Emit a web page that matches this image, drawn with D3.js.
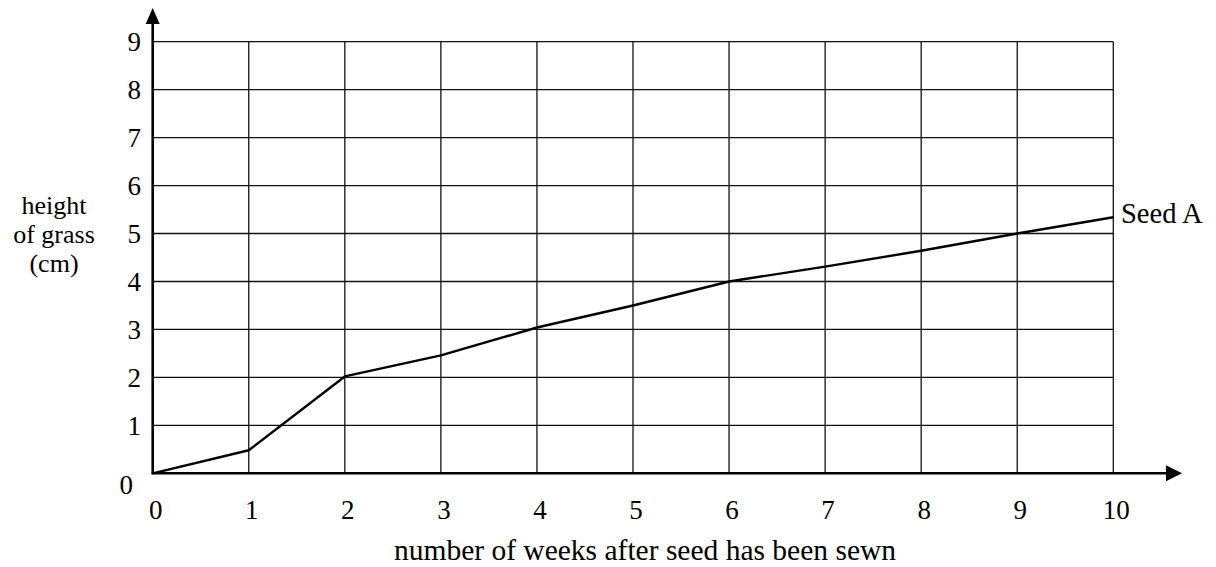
<!DOCTYPE html>
<html>
<head>
<meta charset="utf-8">
<script src="https://cdn.jsdelivr.net/npm/d3@7"></script>
<style>
  body { margin: 0; background: #fff; }
  svg text { font-family: "Liberation Serif", Tinos, "Times New Roman", Times, "DejaVu Serif", serif; fill: #000; }
</style>
</head>
<body>
<div id="graphic"></div>
<script>
var width = 1216,
    height = 567;

// data
var weeks = [0, 1, 2, 3, 4, 5, 6, 7, 8, 9, 10];
var seedA = [0, 0.48, 2.02, 2.46, 3.04, 3.5, 4.0, 4.31, 4.64, 5.0, 5.34];
var xTicks = [0, 1, 2, 3, 4, 5, 6, 7, 8, 9, 10];
var yTicks = [0, 1, 2, 3, 4, 5, 6, 7, 8, 9];
var yTitle = ["height", "of grass", "(cm)"];
var xTitle = "number of weeks after seed has been sewn";
var seriesLabel = "Seed A";

var x = d3.scaleLinear().domain([0, 10]).range([152.7, 1113.3]);
var y = d3.scaleLinear().domain([0, 9]).range([473.3, 41.7]);

var svg = d3.select("#graphic")
    .append("svg")
    .attr("width", width)
    .attr("height", height)
    .attr("font-family", "'Liberation Serif', Tinos, 'Times New Roman', serif");

// grid
var grid = svg.append("g").attr("class", "grid")
    .attr("stroke", "#111")
    .attr("stroke-width", 1.3);

grid.selectAll("line.v")
    .data(xTicks.slice(1))
    .enter().append("line")
    .attr("class", "v")
    .attr("x1", d => x(d)).attr("x2", d => x(d))
    .attr("y1", y(0)).attr("y2", y(9));

grid.selectAll("line.h")
    .data(yTicks.slice(1))
    .enter().append("line")
    .attr("class", "h")
    .attr("x1", x(0)).attr("x2", x(10))
    .attr("y1", d => y(d)).attr("y2", d => y(d));

// axes with arrows
var axes = svg.append("g").attr("class", "axes");

axes.append("line")
    .attr("x1", x(0)).attr("x2", x(0))
    .attr("y1", y(0) + 1).attr("y2", 20)
    .attr("stroke", "#000").attr("stroke-width", 2.6);

axes.append("line")
    .attr("x1", x(0) - 1).attr("x2", 1170)
    .attr("y1", y(0)).attr("y2", y(0))
    .attr("stroke", "#000").attr("stroke-width", 2.6);

axes.append("path")
    .attr("d", "M" + x(0) + ",8 L" + (x(0) - 7) + ",24 L" + (x(0) + 7) + ",24 Z")
    .attr("fill", "#000");

axes.append("path")
    .attr("d", "M1182," + y(0) + " L1166," + (y(0) - 8) + " L1166," + (y(0) + 8) + " Z")
    .attr("fill", "#000");

// tick labels
svg.append("g").selectAll("text")
    .data(xTicks)
    .enter().append("text")
    .attr("x", d => x(d) + 3)
    .attr("y", 519)
    .attr("text-anchor", "middle")
    .attr("font-size", 27)
    .text(d => d);

svg.append("g").selectAll("text")
    .data(yTicks)
    .enter().append("text")
    .attr("x", d => d === 0 ? 133 : 141)
    .attr("y", d => d === 0 ? 485 : y(d))
    .attr("dy", "0.35em")
    .attr("text-anchor", "end")
    .attr("font-size", 27)
    .text(d => d);

// titles
svg.append("g").selectAll("text")
    .data(yTitle)
    .enter().append("text")
    .attr("x", 54)
    .attr("y", (d, i) => 214 + i * 29)
    .attr("text-anchor", "middle")
    .attr("font-size", 26)
    .text(d => d);

svg.append("text")
    .attr("x", 645)
    .attr("y", 560)
    .attr("text-anchor", "middle")
    .attr("font-size", 29.5)
    .text(xTitle);

// data line
var line = d3.line()
    .x((d, i) => x(weeks[i]))
    .y(d => y(d));

svg.append("path")
    .datum(seedA)
    .attr("fill", "none")
    .attr("stroke", "#000")
    .attr("stroke-width", 2.4)
    .attr("stroke-linejoin", "round")
    .attr("d", line);

svg.append("text")
    .attr("x", 1121)
    .attr("y", 223)
    .attr("font-size", 28.5)
    .text(seriesLabel);
</script>
</body>
</html>
